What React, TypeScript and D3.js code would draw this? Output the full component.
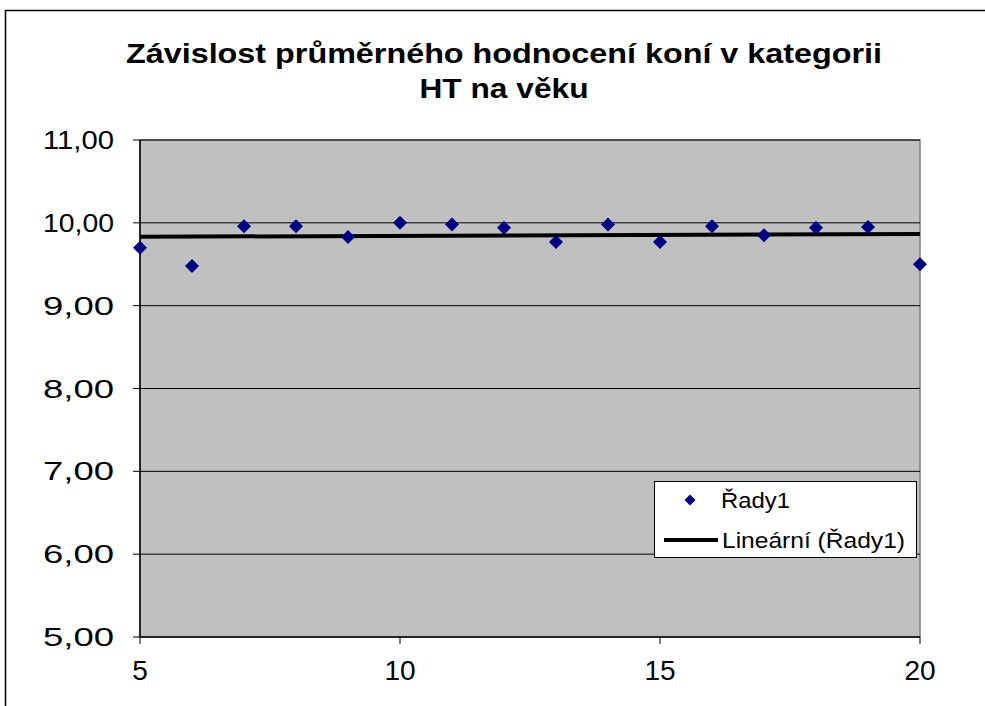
import React from "react";
import * as d3 from "d3";

const ages = [5, 6, 7, 8, 9, 10, 11, 12, 13, 14, 15, 16, 17, 18, 19, 20];
const ratings = [9.7, 9.48, 9.96, 9.96, 9.83, 10.0, 9.98, 9.94, 9.77, 9.98, 9.77, 9.96, 9.85, 9.94, 9.95, 9.5];
const yTicks = [5, 6, 7, 8, 9, 10, 11];
const xTicks = [5, 10, 15, 20];
const titleLines = ["Závislost průměrného hodnocení koní v kategorii", "HT na věku"];
const seriesName = "Řady1";
const trendName = "Lineární (Řady1)";

function diamondPath(w: number, h: number) {
  const p = d3.path();
  p.moveTo(0, -h);
  p.lineTo(w, 0);
  p.lineTo(0, h);
  p.lineTo(-w, 0);
  p.closePath();
  return p.toString();
}

export default function App() {
  const W = 985, H = 706;
  const left = 140, right = 920, top = 140, bottom = 637;
  const x = d3.scaleLinear().domain([5, 20]).range([left, right]);
  const y = d3.scaleLinear().domain([5, 11]).range([bottom, top]);

  const n = ages.length;
  const mx = d3.mean(ages)!;
  const my = d3.mean(ratings)!;
  let sxy = 0, sxx = 0;
  for (let i = 0; i < n; i++) {
    sxy += (ages[i] - mx) * (ratings[i] - my);
    sxx += (ages[i] - mx) ** 2;
  }
  const slope = sxy / sxx;
  const intercept = my - slope * mx;
  const trend = d3.line<number>().x((d) => x(d)).y((d) => y(intercept + slope * d));

  const diamond = diamondPath(7, 7);
  const legendDiamond = diamondPath(5.5, 5.5);
  const font = "'Liberation Sans', Arial, sans-serif";
  const titleWidths = [756, 169];

  return (
    <svg width={W} height={H} style={{ position: "absolute", left: 0, top: 0, background: "#fff" }} fontFamily={font}>
      <rect x={0} y={0} width={W} height={H} fill="#fff" />
      <path d={`M5.5,${H} V10.5 H${W}`} fill="none" stroke="#000" strokeWidth={1.5} />
      {titleLines.map((t, i) => (
        <text
          key={i}
          x={504 - titleWidths[i] / 2}
          y={63 + i * 35}
          fontSize={28}
          fontWeight="bold"
          fill="#000"
          textLength={titleWidths[i]}
          lengthAdjust="spacingAndGlyphs"
        >
          {t}
        </text>
      ))}
      <rect x={left} y={top} width={right - left} height={bottom - top} fill="#c0c0c0" stroke="#808080" strokeWidth={1.5} />
      {yTicks.map((t) => (
        <g key={t}>
          {t > 5 && <line x1={left} x2={right} y1={y(t)} y2={y(t)} stroke="#000" strokeWidth={1} />}
          <line x1={left - 7} x2={left} y1={y(t)} y2={y(t)} stroke="#000" strokeWidth={1} />
          <text x={43} y={y(t) + 9} fontSize={26} fill="#000" textLength={71} lengthAdjust="spacingAndGlyphs">
            {t.toFixed(2).replace(".", ",")}
          </text>
        </g>
      ))}
      <line x1={left} x2={left} y1={top} y2={bottom} stroke="#000" strokeWidth={1.5} />
      <line x1={left} x2={right} y1={bottom} y2={bottom} stroke="#000" strokeWidth={1.5} />
      {xTicks.map((t) => (
        <g key={t}>
          <line x1={x(t)} x2={x(t)} y1={bottom} y2={bottom + 7} stroke="#000" strokeWidth={1} />
          <text x={x(t)} y={680} textAnchor="middle" fontSize={28} fill="#000">
            {t}
          </text>
        </g>
      ))}
      <path d={trend([5, 20])!} stroke="#000" strokeWidth={4} fill="none" />
      {ages.map((a, i) => (
        <path key={a} d={diamond} transform={`translate(${x(a)},${y(ratings[i])})`} fill="#000080" />
      ))}
      <g>
        <rect x={654.5} y={481.5} width={262} height={76} fill="#fff" stroke="#000" strokeWidth={1} />
        <path d={legendDiamond} transform="translate(690,500)" fill="#000080" />
        <text x={721} y={508} fontSize={22} fill="#000" textLength={69} lengthAdjust="spacingAndGlyphs">{seriesName}</text>
        <line x1={664} x2={718} y1={540} y2={540} stroke="#000" strokeWidth={4} />
        <text x={722} y={548} fontSize={22} fill="#000" textLength={183} lengthAdjust="spacingAndGlyphs">{trendName}</text>
      </g>
    </svg>
  );
}
